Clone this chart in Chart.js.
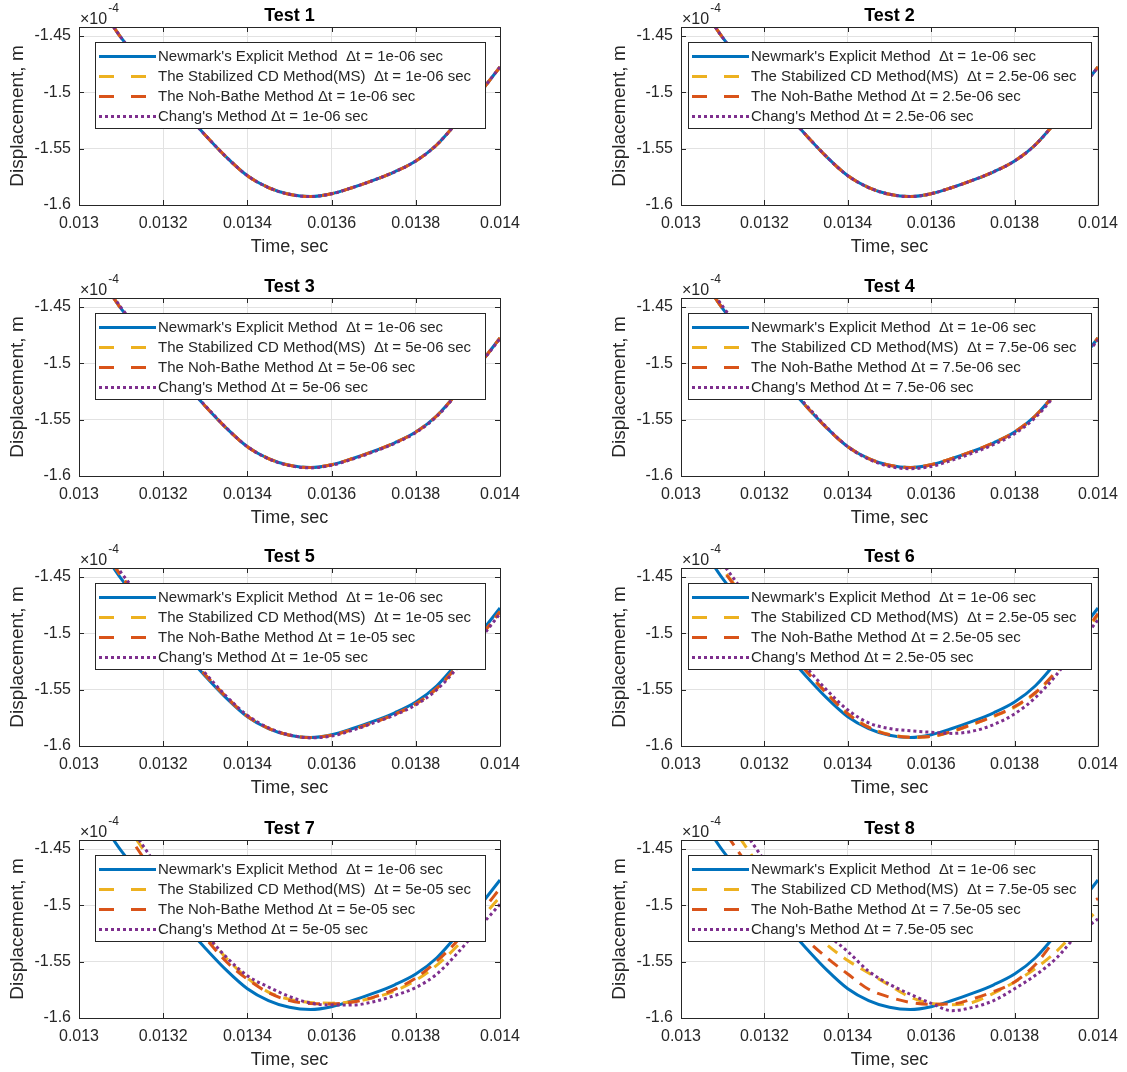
<!DOCTYPE html>
<html>
<head>
<meta charset="utf-8">
<script src="https://cdn.jsdelivr.net/npm/chart.js@4.4.0/dist/chart.umd.min.js"></script>
<style>
  html, body { margin: 0; background: #fff; overflow: hidden; }
  #fig { position: relative; width: 1127px; height: 1072px; overflow: hidden; }
  #fig canvas { position: absolute; }
</style>
</head>
<body>
<div id="fig"></div>
<script>
// values in units of 1e-4 m (axis shows x10^-4)
const timeSec = [0.013, 0.01305, 0.0131, 0.01315, 0.0132, 0.01325, 0.0133, 0.01335, 0.0134, 0.01345, 0.0135,
  0.01355, 0.0136, 0.01365, 0.0137, 0.01375, 0.0138, 0.01385, 0.0139, 0.01395, 0.014];
const xTicks = [0.013, 0.0132, 0.0134, 0.0136, 0.0138, 0.014];
const yTicks = [-1.6, -1.55, -1.5, -1.45];
const dtLabels = ['1e-06', '2.5e-06', '5e-06', '7.5e-06', '1e-05', '2.5e-05', '5e-05', '7.5e-05'];

const newmark = [-1.398, -1.424, -1.4515, -1.4745, -1.4965, -1.5175, -1.538, -1.5575, -1.574, -1.5845, -1.5905, -1.5925, -1.59, -1.5845, -1.578, -1.5705, -1.561, -1.5465, -1.5255, -1.5015, -1.4775];

const stab1 = [-1.398, -1.424, -1.4515, -1.4745, -1.4965, -1.5175, -1.538, -1.5575, -1.574, -1.5845, -1.5905, -1.5925, -1.59, -1.5845, -1.578, -1.5705, -1.561, -1.5465, -1.5255, -1.5015, -1.4775];
const noh1 = [-1.398, -1.424, -1.4515, -1.4745, -1.4965, -1.5175, -1.538, -1.5575, -1.574, -1.5845, -1.5905, -1.5925, -1.59, -1.5845, -1.578, -1.5705, -1.561, -1.5465, -1.5255, -1.5015, -1.4775];
const chang1 = [-1.398, -1.424, -1.4515, -1.4745, -1.4965, -1.5175, -1.538, -1.5575, -1.574, -1.5845, -1.5905, -1.5925, -1.59, -1.5845, -1.578, -1.5705, -1.561, -1.5465, -1.5255, -1.5015, -1.4775];

const stab2 = [-1.398, -1.424, -1.4515, -1.4745, -1.4965, -1.5175, -1.538, -1.5575, -1.574, -1.5845, -1.5905, -1.5925, -1.59, -1.5845, -1.578, -1.5705, -1.561, -1.5465, -1.5255, -1.5015, -1.4775];
const noh2 = [-1.398, -1.424, -1.4515, -1.4745, -1.4965, -1.5175, -1.538, -1.5575, -1.574, -1.5845, -1.5905, -1.5925, -1.59, -1.5845, -1.578, -1.5705, -1.561, -1.5465, -1.5255, -1.5015, -1.4775];
const chang2 = [-1.398, -1.424, -1.4515, -1.4745, -1.4965, -1.5175, -1.538, -1.5575, -1.574, -1.5845, -1.5905, -1.5925, -1.59, -1.5845, -1.578, -1.5705, -1.561, -1.5465, -1.5255, -1.5015, -1.4775];

const stab3 = [-1.398, -1.424, -1.4515, -1.4745, -1.4965, -1.5175, -1.538, -1.5575, -1.574, -1.5845, -1.5905, -1.5925, -1.59, -1.5845, -1.578, -1.5705, -1.561, -1.5465, -1.5255, -1.5015, -1.4775];
const noh3 = [-1.398, -1.424, -1.4515, -1.4745, -1.4965, -1.5175, -1.538, -1.5575, -1.574, -1.5845, -1.5905, -1.5925, -1.59, -1.5845, -1.578, -1.5705, -1.561, -1.5465, -1.5255, -1.5015, -1.4775];
const chang3 = [-1.397, -1.423, -1.4505, -1.4737, -1.4958, -1.517, -1.5376, -1.5573, -1.574, -1.5847, -1.5908, -1.5928, -1.5905, -1.585, -1.5785, -1.571, -1.5615, -1.547, -1.526, -1.502, -1.478];

const stab4 = [-1.398, -1.424, -1.4515, -1.4745, -1.4965, -1.5175, -1.538, -1.5575, -1.574, -1.5845, -1.5905, -1.5925, -1.59, -1.5845, -1.578, -1.5705, -1.561, -1.5465, -1.5255, -1.5015, -1.4775];
const noh4 = [-1.398, -1.424, -1.4515, -1.4745, -1.4965, -1.5175, -1.538, -1.5575, -1.574, -1.5845, -1.5905, -1.5925, -1.59, -1.5845, -1.578, -1.5705, -1.561, -1.5465, -1.5255, -1.5015, -1.4775];
const chang4 = [-1.396, -1.422, -1.4495, -1.4728, -1.495, -1.5162, -1.537, -1.557, -1.574, -1.585, -1.5915, -1.5935, -1.5915, -1.586, -1.5795, -1.572, -1.5625, -1.548, -1.527, -1.503, -1.479];

const stab5 = [-1.395, -1.421, -1.4488, -1.472, -1.4945, -1.516, -1.5368, -1.5565, -1.5735, -1.5842, -1.5903, -1.5925, -1.5905, -1.5855, -1.5792, -1.572, -1.5628, -1.549, -1.5285, -1.505, -1.481];
const noh5 = [-1.395, -1.4212, -1.449, -1.4722, -1.4946, -1.5162, -1.537, -1.5566, -1.5736, -1.5843, -1.5904, -1.5925, -1.5904, -1.5853, -1.579, -1.5718, -1.5625, -1.5487, -1.5282, -1.5046, -1.4806];
const chang5 = [-1.392, -1.418, -1.446, -1.4695, -1.4925, -1.5145, -1.5355, -1.5558, -1.5728, -1.5838, -1.5902, -1.5928, -1.5912, -1.586, -1.5795, -1.5725, -1.5635, -1.55, -1.53, -1.5065, -1.4825];

const stab6 = [-1.389, -1.415, -1.4428, -1.4672, -1.4905, -1.512, -1.533, -1.5532, -1.5712, -1.5833, -1.5898, -1.5922, -1.5916, -1.5872, -1.5808, -1.5738, -1.5655, -1.553, -1.5342, -1.509, -1.4835];
const noh6 = [-1.39, -1.416, -1.4435, -1.468, -1.491, -1.5125, -1.5335, -1.5535, -1.5715, -1.5835, -1.59, -1.5922, -1.5915, -1.587, -1.5805, -1.5735, -1.565, -1.5525, -1.5335, -1.508, -1.4825];
const chang6 = [-1.385, -1.411, -1.438, -1.463, -1.487, -1.509, -1.53, -1.5505, -1.568, -1.5795, -1.5845, -1.5865, -1.5878, -1.5888, -1.5868, -1.581, -1.5715, -1.557, -1.537, -1.512, -1.488];

const stab7 = [-1.368, -1.393, -1.421, -1.449, -1.476, -1.501, -1.525, -1.547, -1.5645, -1.577, -1.5835, -1.5862, -1.5868, -1.5856, -1.582, -1.576, -1.5665, -1.553, -1.5355, -1.514, -1.4925];
const noh7 = [-1.375, -1.4, -1.428, -1.456, -1.482, -1.506, -1.529, -1.55, -1.5655, -1.5775, -1.5845, -1.5872, -1.5875, -1.5858, -1.5815, -1.5745, -1.5645, -1.5495, -1.531, -1.5085, -1.485];
const chang7 = [-1.362, -1.39, -1.418, -1.446, -1.473, -1.5, -1.525, -1.546, -1.5625, -1.5725, -1.581, -1.5868, -1.5885, -1.5885, -1.5855, -1.58, -1.573, -1.561, -1.542, -1.52, -1.499];

const stab8 = [-1.368, -1.392, -1.418, -1.445, -1.472, -1.497, -1.518, -1.535, -1.549, -1.56, -1.571, -1.5815, -1.587, -1.5882, -1.586, -1.578, -1.568, -1.556, -1.541, -1.522, -1.504];
const noh8 = [-1.38, -1.404, -1.432, -1.459, -1.485, -1.508, -1.53, -1.5465, -1.561, -1.5745, -1.5815, -1.5862, -1.5878, -1.5875, -1.583, -1.5765, -1.568, -1.5525, -1.529, -1.506, -1.494];
const chang8 = [-1.355, -1.378, -1.405, -1.433, -1.46, -1.484, -1.506, -1.5255, -1.541, -1.5585, -1.57, -1.579, -1.587, -1.5935, -1.5905, -1.5845, -1.574, -1.562, -1.547, -1.5265, -1.512];

const stabRuns = [stab1, stab2, stab3, stab4, stab5, stab6, stab7, stab8];
const nohRuns = [noh1, noh2, noh3, noh4, noh5, noh6, noh7, noh8];
const changRuns = [chang1, chang2, chang3, chang4, chang5, chang6, chang7, chang8];

const FONT = '"Liberation Sans", Arial, Helvetica, sans-serif';
const INK = '#262626';
const BLUE = '#0072BD', ORANGE = '#D95319', YELLOW = '#EDB120', PURPLE = '#7E2F8E';

Chart.defaults.font.family = FONT;

// plot area bottoms per row, column placement
const rowBottom = [205, 476, 746, 1018];
const cols = [
  { left: 0, width: 540, padL: 4, padR: 40 },
  { left: 590, width: 537, padL: 16, padR: 26 }
];

const matlabAxes = {
  id: 'matlabAxes',
  afterDatasetsDraw(chart, args, opts) {
    const { ctx, chartArea: a } = chart;
    const xs = chart.scales.x, ys = chart.scales.y;
    ctx.save();
    ctx.strokeStyle = INK;
    ctx.lineWidth = 1;
    ctx.beginPath();
    ctx.rect(Math.round(a.left) + 0.5, Math.round(a.top) + 0.5, Math.round(a.right - a.left), Math.round(a.bottom - a.top));
    ctx.stroke();
    // inward tick marks on all four sides
    ctx.beginPath();
    xTicks.forEach(v => {
      const px = Math.round(xs.getPixelForValue(v)) + 0.5;
      ctx.moveTo(px, a.bottom); ctx.lineTo(px, a.bottom - 5);
      ctx.moveTo(px, a.top); ctx.lineTo(px, a.top + 5);
    });
    yTicks.forEach(v => {
      const py = Math.round(ys.getPixelForValue(v)) + 0.5;
      ctx.moveTo(a.left, py); ctx.lineTo(a.left + 5, py);
      ctx.moveTo(a.right, py); ctx.lineTo(a.right - 5, py);
    });
    ctx.stroke();

    // title
    ctx.fillStyle = '#000';
    ctx.font = 'bold 18px ' + FONT;
    ctx.textAlign = 'center';
    ctx.textBaseline = 'middle';
    ctx.fillText(opts.title, (a.left + a.right) / 2, a.top - 11);

    // exponent label
    ctx.fillStyle = INK;
    ctx.textAlign = 'left';
    ctx.textBaseline = 'alphabetic';
    ctx.font = '16px ' + FONT;
    ctx.fillText('\u00d710', a.left + 1, a.top - 3);
    const w = ctx.measureText('\u00d710').width;
    ctx.font = '12px ' + FONT;
    ctx.fillText('-4', a.left + 2 + w, a.top - 15);

    // legend box
    ctx.font = '15px ' + FONT;
    const items = opts.items;
    const maxW = Math.max(...items.map(it => ctx.measureText(it.text).width));
    const boxW = Math.round(63 + maxW + 14), boxH = 86;
    const boxL = Math.round((a.left + a.right) / 2 - boxW / 2), boxT = Math.round(a.top + 15);
    ctx.fillStyle = '#fff';
    ctx.fillRect(boxL, boxT, boxW, boxH);
    ctx.strokeStyle = INK;
    ctx.lineWidth = 1;
    ctx.strokeRect(boxL + 0.5, boxT + 0.5, boxW, boxH);
    items.forEach((it, i) => {
      const y = boxT + 14.5 + i * 20;
      ctx.strokeStyle = it.color;
      ctx.lineWidth = 3;
      ctx.setLineDash(it.legendDash);
      ctx.beginPath();
      ctx.moveTo(boxL + 4, y); ctx.lineTo(boxL + 61, y);
      ctx.stroke();
      ctx.setLineDash([]);
      ctx.fillStyle = INK;
      ctx.textBaseline = 'middle';
      ctx.fillText(it.text, boxL + 63, y);
    });
    ctx.restore();
  }
};

const fig = document.getElementById('fig');

for (let k = 0; k < 8; k++) {
  const row = Math.floor(k / 2), col = cols[k % 2];
  const bottom = rowBottom[row];
  const top = bottom - 178;
  const canvas = document.createElement('canvas');
  canvas.width = col.width;
  canvas.height = 260;
  canvas.style.left = col.left + 'px';
  canvas.style.top = (top - 27) + 'px';
  canvas.style.width = col.width + 'px';
  canvas.style.height = '260px';
  fig.appendChild(canvas);

  const dt = dtLabels[k];
  const series = [
    { label: "Newmark's Explicit Method  \u0394t = 1e-06 sec", vals: newmark, color: BLUE, dash: [], legendDash: [], order: 4 },
    { label: 'The Stabilized CD Method(MS)  \u0394t = ' + dt + ' sec', vals: stabRuns[k], color: YELLOW, dash: [12, 8], legendDash: [15, 17], order: 3 },
    { label: 'The Noh-Bathe Method \u0394t = ' + dt + ' sec', vals: nohRuns[k], color: ORANGE, dash: [12, 8], legendDash: [15, 17], order: 2 },
    { label: "Chang's Method \u0394t = " + dt + ' sec', vals: changRuns[k], color: PURPLE, dash: [3, 3], legendDash: [3, 3], order: 1 }
  ];

  new Chart(canvas, {
    type: 'line',
    data: {
      datasets: series.map(s => ({
        label: s.label,
        data: timeSec.map((t, i) => ({ x: t, y: s.vals[i] })),
        borderColor: s.color,
        borderWidth: 3,
        borderDash: s.dash,
        pointRadius: 0,
        fill: false,
        cubicInterpolationMode: 'monotone',
        order: s.order
      }))
    },
    options: {
      responsive: false,
      animation: false,
      devicePixelRatio: 1,
      layout: { padding: { left: col.padL, right: col.padR, top: 27, bottom: 0 } },
      plugins: {
        legend: { display: false },
        tooltip: { enabled: false },
        title: { display: false },
        matlabAxes: {
          title: 'Test ' + (k + 1),
          items: series.map(s => ({ text: s.label, color: s.color, legendDash: s.legendDash }))
        }
      },
      scales: {
        x: {
          type: 'linear',
          min: 0.013,
          max: 0.014,
          afterBuildTicks: s => { s.ticks = xTicks.map(v => ({ value: v })); },
          afterFit: s => { s.height = 55; },
          ticks: {
            autoSkip: false, maxRotation: 0, padding: 9, color: INK,
            font: { size: 16 },
            callback: v => String(Number(Number(v).toFixed(4)))
          },
          grid: { color: '#e2e2e2', drawTicks: false },
          border: { display: false },
          title: { display: true, text: 'Time, sec', color: INK, font: { size: 18 }, padding: { top: 0, bottom: 2 } }
        },
        y: {
          type: 'linear',
          min: -1.6,
          max: -1.442,
          afterBuildTicks: s => { s.ticks = yTicks.map(v => ({ value: v })); },
          afterFit: s => { s.width = 75; },
          ticks: {
            autoSkip: false, padding: 8, color: INK,
            font: { size: 16 },
            callback: v => String(Number(Number(v).toFixed(2)))
          },
          grid: { color: '#e2e2e2', drawTicks: false },
          border: { display: false },
          title: { display: true, text: 'Displacement, m', color: INK, font: { size: 19 }, padding: { top: 2, bottom: 0 } }
        }
      }
    },
    plugins: [matlabAxes]
  });
}
</script>
</body>
</html>
